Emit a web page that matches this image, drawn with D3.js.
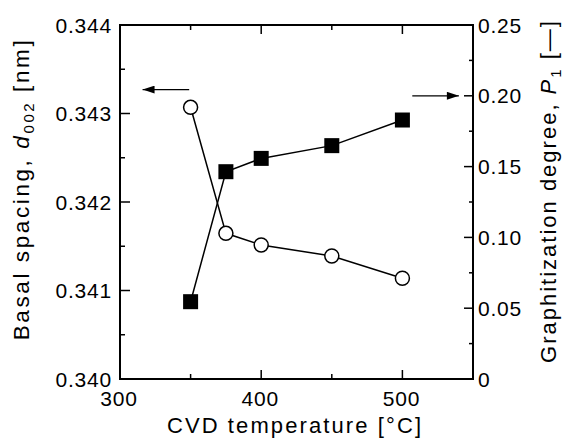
<!DOCTYPE html>
<html>
<head>
<meta charset="utf-8">
<script src="https://cdn.jsdelivr.net/npm/d3@7"></script>
<style>
  body { margin: 0; background: #fff; }
  svg text { font-family: "Liberation Sans", Arial, sans-serif; fill: #000; }
</style>
</head>
<body>
<div id="chart"></div>
<script>
// data
const temps = [350, 375, 400, 450, 500];
const spacing = [0.34307, 0.341646, 0.341514, 0.34139, 0.341138]; // d002 [nm], left axis
const graphitization = [0.0546, 0.1464, 0.1558, 0.1648, 0.1829]; // P1, right axis

const xTicks = [350, 400, 450, 500];
const xLabels = [300, 400, 500];
const yLeftTicks = [0.3405, 0.341, 0.3415, 0.342, 0.3425, 0.343, 0.3435];
const yLeftLabels = [0.340, 0.341, 0.342, 0.343, 0.344];
const yRightTicks = [0.025, 0.05, 0.075, 0.1, 0.125, 0.15, 0.175, 0.2, 0.225];
const yRightLabels = [0, 0.05, 0.1, 0.15, 0.2, 0.25];

const width = 564;
const height = 438;
const margin = { top: 25, right: 91, bottom: 59, left: 120 };

const svg = d3.select('#chart')
  .append('svg')
  .attr('width', width)
  .attr('height', height);

const x = d3.scaleLinear().domain([300, 550]).range([margin.left, width - margin.right]);
const yL = d3.scaleLinear().domain([0.340, 0.344]).range([height - margin.bottom, margin.top]);
const yR = d3.scaleLinear().domain([0, 0.25]).range([height - margin.bottom, margin.top]);

const x0 = margin.left;
const x1 = width - margin.right;
const y0 = height - margin.bottom;
const y1 = margin.top;

const isMajor = (v, step) => Math.abs(Math.round(v / step) * step - v) < 1e-9;

// ticks, pointing inward, major ones longer
const ticks = svg.append('g').attr('stroke', '#000').attr('stroke-width', 1.5);

xTicks.forEach((t) => {
  const len = isMajor(t, 100) ? 9 : 5;
  ticks.append('line').attr('x1', x(t)).attr('x2', x(t)).attr('y1', y0).attr('y2', y0 - len);
  ticks.append('line').attr('x1', x(t)).attr('x2', x(t)).attr('y1', y1).attr('y2', y1 + len);
});

yLeftTicks.forEach((t) => {
  const len = isMajor(t, 0.001) ? 10 : 5;
  ticks.append('line').attr('x1', x0).attr('x2', x0 + len).attr('y1', yL(t)).attr('y2', yL(t));
});

yRightTicks.forEach((t) => {
  const len = isMajor(t, 0.05) ? 9 : 4;
  ticks.append('line').attr('x1', x1).attr('x2', x1 - len).attr('y1', yR(t)).attr('y2', yR(t));
});

// frame
svg.append('rect')
  .attr('x', x0)
  .attr('y', y1)
  .attr('width', x1 - x0)
  .attr('height', y0 - y1)
  .attr('fill', 'none')
  .attr('stroke', '#000')
  .attr('stroke-width', 2);

// tick labels
const labels = svg.append('g').attr('font-size', 21).attr('letter-spacing', 0.8);

labels.selectAll('.xl')
  .data(xLabels)
  .join('text')
  .attr('x', (d) => x(d) - 1)
  .attr('y', y0 + 27)
  .attr('text-anchor', 'middle')
  .text((d) => d);

labels.selectAll('.yl')
  .data(yLeftLabels)
  .join('text')
  .attr('x', x0 - 8)
  .attr('y', (d) => yL(d))
  .attr('dy', '0.36em')
  .attr('text-anchor', 'end')
  .text((d) => d3.format('.3f')(d));

labels.selectAll('.yr')
  .data(yRightLabels)
  .join('text')
  .attr('x', x1 + 5)
  .attr('y', (d) => yR(d))
  .attr('dy', '0.36em')
  .attr('text-anchor', 'start')
  .text((d) => (d === 0 ? '0' : d3.format('.2f')(d)));

// axis titles
svg.append('text')
  .attr('x', 295)
  .attr('y', 433)
  .attr('text-anchor', 'middle')
  .attr('font-size', 22)
  .attr('letter-spacing', 2.1)
  .text('CVD temperature [°C]');

const leftTitle = svg.append('text')
  .attr('transform', 'translate(29,189) rotate(-90)')
  .attr('text-anchor', 'middle')
  .attr('font-size', 22.5)
  .attr('letter-spacing', 2.6);
leftTitle.append('tspan').text('Basal spacing, ');
leftTitle.append('tspan').attr('font-style', 'italic').text('d');
leftTitle.append('tspan').attr('font-size', 15).attr('dy', 5).text('002');
leftTitle.append('tspan').attr('dy', -5).text(' [nm]');

const rightTitle = svg.append('text')
  .attr('transform', 'translate(556,191) rotate(-90)')
  .attr('text-anchor', 'middle')
  .attr('font-size', 22)
  .attr('letter-spacing', 2);
rightTitle.append('tspan').text('Graphitization degree, ');
rightTitle.append('tspan').attr('font-style', 'italic').text('P');
rightTitle.append('tspan').attr('font-size', 15).attr('dy', 5).text('1');
rightTitle.append('tspan').attr('dy', -5).text(' [\u2014]');

// series
const pts = temps.map((t, i) => ({ t, d: spacing[i], p: graphitization[i] }));

const lineL = d3.line().x((d) => x(d.t)).y((d) => yL(d.d));
const lineR = d3.line().x((d) => x(d.t)).y((d) => yR(d.p));

svg.append('path')
  .attr('d', lineL(pts))
  .attr('fill', 'none')
  .attr('stroke', '#000')
  .attr('stroke-width', 1.5);

svg.append('path')
  .attr('d', lineR(pts))
  .attr('fill', 'none')
  .attr('stroke', '#000')
  .attr('stroke-width', 1.5);

svg.selectAll('.sq')
  .data(pts)
  .join('rect')
  .attr('x', (d) => x(d.t) - 7.5)
  .attr('y', (d) => yR(d.p) - 7.5)
  .attr('width', 15)
  .attr('height', 15)
  .attr('fill', '#000');

svg.selectAll('.ci')
  .data(pts)
  .join('circle')
  .attr('cx', (d) => x(d.t))
  .attr('cy', (d) => yL(d.d))
  .attr('r', 7)
  .attr('fill', '#fff')
  .attr('stroke', '#000')
  .attr('stroke-width', 1.5);

// arrows pointing to the axis each series uses
svg.append('defs').append('marker')
  .attr('id', 'head')
  .attr('viewBox', '0 0 12 8')
  .attr('refX', 12)
  .attr('refY', 4)
  .attr('markerWidth', 13)
  .attr('markerHeight', 8)
  .attr('markerUnits', 'userSpaceOnUse')
  .attr('orient', 'auto')
  .append('path')
  .attr('d', 'M0,0L12,4L0,8Z')
  .attr('fill', '#000');

svg.append('line')
  .attr('x1', x(349)).attr('x2', x(316))
  .attr('y1', yL(0.34327)).attr('y2', yL(0.34327))
  .attr('stroke', '#000').attr('stroke-width', 1.2)
  .attr('marker-end', 'url(#head)');

svg.append('line')
  .attr('x1', x(507)).attr('x2', x(540))
  .attr('y1', yR(0.2)).attr('y2', yR(0.2))
  .attr('stroke', '#000').attr('stroke-width', 1.2)
  .attr('marker-end', 'url(#head)');
</script>
</body>
</html>
